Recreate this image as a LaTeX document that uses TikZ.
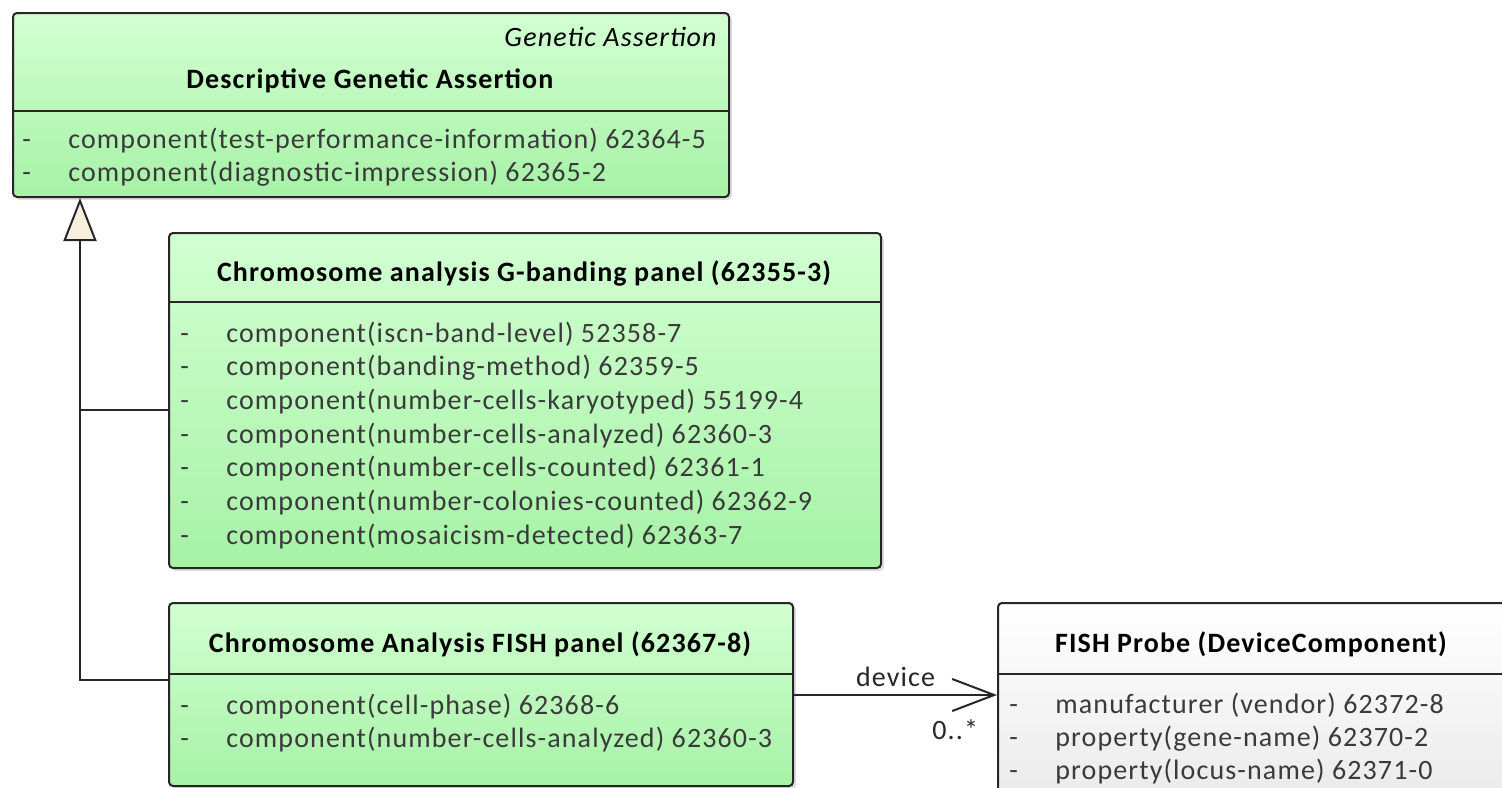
\documentclass[tikz,border=0pt]{standalone}
\usepackage{fontspec}
\setmainfont{Carlito}
\newfontfamily\umlfont[LetterSpace=4]{Carlito}
\usetikzlibrary{arrows.meta,shadows}
\definecolor{classtop}{RGB}{210,255,210}
\definecolor{classbot}{RGB}{166,242,166}
\definecolor{probebot}{RGB}{232,232,232}
\definecolor{attrgrey}{RGB}{58,58,58}
\definecolor{genfill}{RGB}{248,238,222}

\begin{document}
\begin{tikzpicture}[x=0.5pt, y=-0.5pt,
    umlclass/.style={draw=black!85, line width=1pt, rounded corners=2pt, anchor=north west,
        inner sep=0pt, top color=classtop, bottom color=classbot,
        drop shadow={shadow xshift=1.5pt, shadow yshift=-1.5pt, opacity=0.25}},
    probeclass/.style={umlclass, top color=white, bottom color=probebot},
    ctitle/.style={font=\umlfont\fontsize{14}{16}\selectfont\bfseries, anchor=base},
    attr/.style={font=\umlfont\fontsize{14}{16}\selectfont, text=attrgrey, anchor=base west, inner sep=0pt},
    bar/.style={attr}]
    \clip (0,0) rectangle (1502,787);
    \useasboundingbox (0,0) rectangle (1502,787);

    % Classes
    \node[umlclass, minimum width=358pt, minimum height=92pt] (desc) at (12,12) {};
    \node[probeclass, minimum width=300pt, minimum height=110pt] (probe) at (997,602) {};
    \node[umlclass, minimum width=356pt, minimum height=167.5pt] (gband) at (168,232) {};
    \node[umlclass, minimum width=312pt, minimum height=91.5pt] (fish) at (168,602) {};

    \draw[line width=1pt, black!85] (desc.west |- 0,111) -- (desc.east |- 0,111);
    \draw[line width=1pt, black!85] (gband.west |- 0,302) -- (gband.east |- 0,302);
    \draw[line width=1pt, black!85] (fish.west |- 0,674) -- (fish.east |- 0,674);
    \draw[line width=1pt, black!85] (probe.west |- 0,674) -- (probe.east |- 0,674);

    % Descriptive Genetic Assertion
    \node[font=\umlfont\fontsize{14}{16}\selectfont\itshape, anchor=base east, inner sep=0pt] (descst) at (717,46) {Genetic Assertion};
    \node[ctitle] (desct) at (370,88) {Descriptive Genetic Assertion};
    \foreach \t [count=\i] in {{component(test-performance-information) 62364-5},
                               {component(diagnostic-impression) 62365-2}} {
        \node[bar] (descb\i) at (22,{148+33*(\i-1)}) {-};
        \node[attr] (desca\i) at (68,{148+33*(\i-1)}) {\t};
    }

    % G-banding panel
    \node[ctitle] (gbandt) at (524,281) {Chromosome analysis G-banding panel (62355-3)};
    \foreach \t [count=\i] in {{component(iscn-band-level) 52358-7},
                               {component(banding-method) 62359-5},
                               {component(number-cells-karyotyped) 55199-4},
                               {component(number-cells-analyzed) 62360-3},
                               {component(number-cells-counted) 62361-1},
                               {component(number-colonies-counted) 62362-9},
                               {component(mosaicism-detected) 62363-7}} {
        \node[bar] (gbandb\i) at (180,{342+33.7*(\i-1)}) {-};
        \node[attr] (gbanda\i) at (226,{342+33.7*(\i-1)}) {\t};
    }

    % FISH panel
    \node[ctitle] (fisht) at (480,652) {Chromosome Analysis FISH panel (62367-8)};
    \foreach \t [count=\i] in {{component(cell-phase) 62368-6},
                               {component(number-cells-analyzed) 62360-3}} {
        \node[bar] (fishb\i) at (180,{714+33*(\i-1)}) {-};
        \node[attr] (fisha\i) at (226,{714+33*(\i-1)}) {\t};
    }

    % FISH probe
    \node[ctitle] (probet) at (1251,652) {FISH Probe (DeviceComponent)};
    \foreach \t [count=\i] in {{manufacturer (vendor) 62372-8},
                               {property(gene-name) 62370-2},
                               {property(locus-name) 62371-0}} {
        \node[bar] (probeb\i) at (1009,{713+33*(\i-1)}) {-};
        \node[attr] (probea\i) at (1055,{713+33*(\i-1)}) {\t};
    }

    % Generalization
    \coordinate (gj1) at (80,410);
    \coordinate (gj2) at (80,680);
    \draw[line width=1pt, black!85] (gband.west |- gj1) -- (gj1);
    \draw[line width=1pt, black!85, -{Triangle[length=21.5pt, width=16.5pt, fill=genfill]}]
        (fish.west |- gj2) -- (gj2) -- (gj2 |- desc.south);

    % Association
    \coordinate (asc) at (0,695);
    \draw[line width=1pt, black!85, -{Straight Barb[length=21pt, width=16pt]}] (fish.east |- asc) -- (probe.west |- asc)
        node[pos=0.5, yshift=9pt, inner sep=0pt, font=\umlfont\fontsize{14}{16}\selectfont] (devl) {device}
        node[pos=1, anchor=north east, xshift=-9pt, yshift=-12pt, inner sep=0pt,
             font=\umlfont\fontsize{14}{16}\selectfont] (mult) {0..*};
\end{tikzpicture}
\end{document}
